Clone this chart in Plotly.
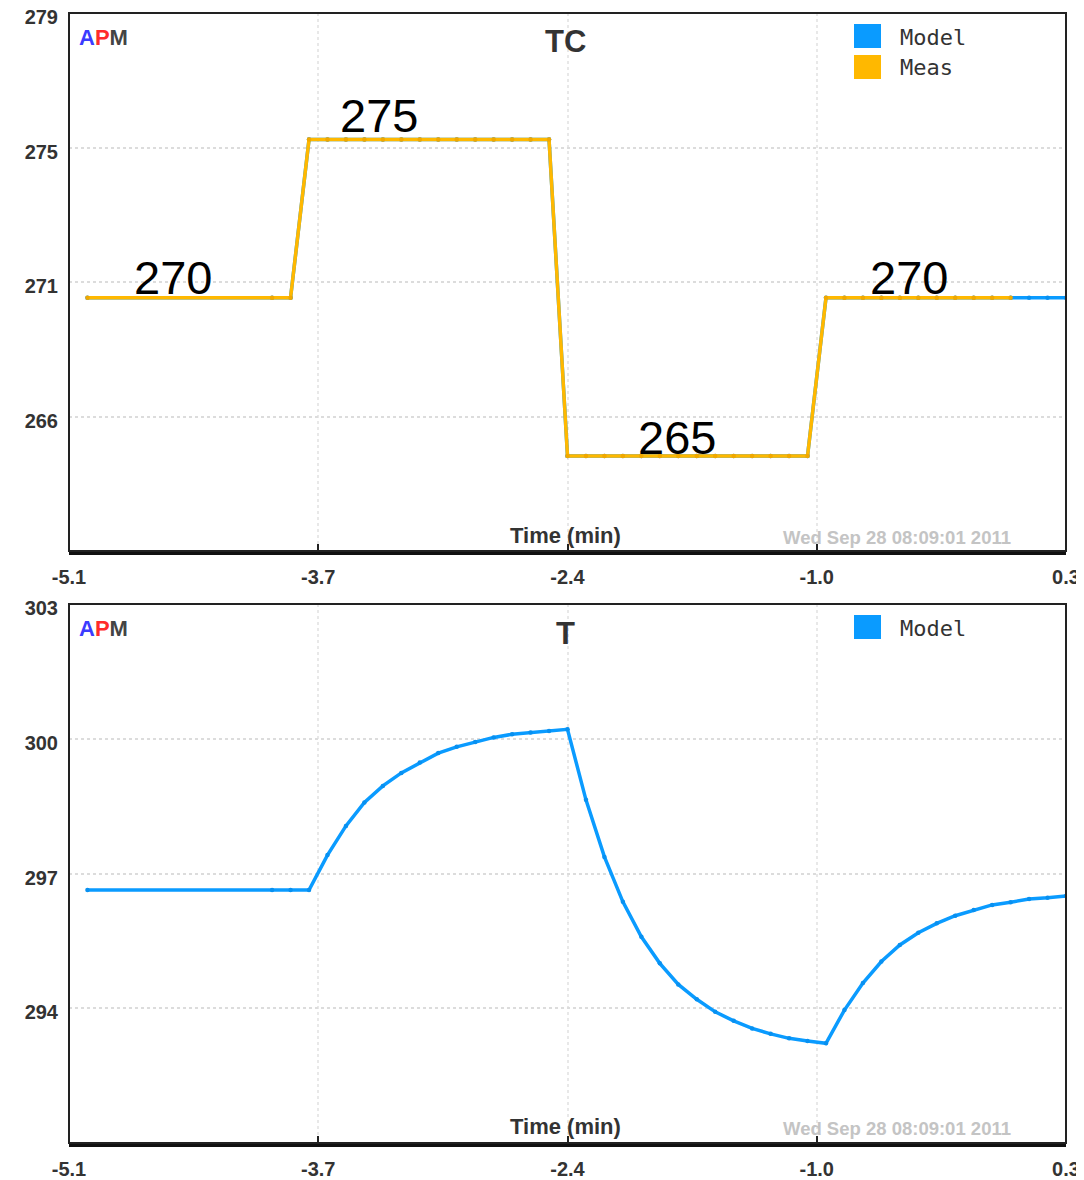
import plotly.graph_objects as go

# ---------------- data ----------------
time_min = [-5.0, -4.0, -3.9, -3.8, -3.7, -3.6, -3.5, -3.4, -3.3, -3.2, -3.1, -3.0,
            -2.9, -2.8, -2.7, -2.6, -2.5, -2.4, -2.3, -2.2, -2.1, -2.0, -1.9, -1.8,
            -1.7, -1.6, -1.5, -1.4, -1.3, -1.2, -1.1, -1.0, -0.9, -0.8, -0.7, -0.6,
            -0.5, -0.4, -0.3, -0.2, -0.1, 0.0, 0.1, 0.2, 0.3]

tc_model = [270, 270, 270,
            275, 275, 275, 275, 275, 275, 275, 275, 275, 275, 275, 275, 275, 275,
            265, 265, 265, 265, 265, 265, 265, 265, 265, 265, 265, 265, 265, 265,
            270, 270, 270, 270, 270, 270, 270, 270, 270, 270, 270, 270, 270, 270]

tc_meas_time = time_min[:42]
tc_meas = tc_model[:42]

t_model = [296.63, 296.63, 296.63, 296.63, 297.41, 298.06, 298.58, 298.95, 299.24,
           299.47, 299.68, 299.82, 299.93, 300.03, 300.10, 300.14, 300.17, 300.21,
           298.64, 297.37, 296.37, 295.59, 295.00, 294.53, 294.20, 293.92, 293.72,
           293.55, 293.43, 293.33, 293.27, 293.22, 293.96, 294.56, 295.04, 295.41,
           295.68, 295.89, 296.06, 296.19, 296.30, 296.36, 296.43, 296.46, 296.50]

x_tickvals = [-5.1, -3.75, -2.4, -1.05, 0.3]
x_ticktext = ["-5.1", "-3.7", "-2.4", "-1.0", "0.3"]
tc_tickvals = [266.25, 270.5, 274.75, 279]
tc_ticktext = ["266", "271", "275", "279"]
t_tickvals = [294, 297, 300, 303]
t_ticktext = ["294", "297", "300", "303"]

step_labels = ["270", "275", "265", "270"]
step_label_x = [-4.537, -3.421, -1.807, -0.55]
step_label_y = [269.75, 274.85, 264.69, 269.75]

BLUE = "#0a9bff"
ORANGE = "#ffb800"
FONT = "Liberation Sans, Arial, sans-serif"

# ---------------- layout helpers ----------------
# the page body has an 8px margin, so the figure is drawn 8px in from the corner
OFF = 8
W, H = 1084 - OFF, 1180 - OFF
ML, MR, MT, MB = 69 - OFF, 18, 13 - OFF, 37
PW, PH = W - ML - MR, H - MT - MB


def px(xp):
    return (xp - OFF - ML) / PW


def py(yp):
    return (H - MB - (yp - OFF)) / PH


fig = go.Figure()

# top subplot traces
fig.add_trace(go.Scatter(x=time_min, y=tc_model, mode="lines+markers",
                         line=dict(color=BLUE, width=3.5),
                         marker=dict(color="#0890f0", size=4.5),
                         xaxis="x", yaxis="y", showlegend=False, name="Model"))
fig.add_trace(go.Scatter(x=tc_meas_time, y=tc_meas, mode="lines+markers",
                         line=dict(color=ORANGE, width=3.5),
                         marker=dict(color="#f0a800", size=4.5),
                         xaxis="x", yaxis="y", showlegend=False, name="Meas"))
# bottom subplot trace
fig.add_trace(go.Scatter(x=time_min, y=t_model, mode="lines+markers",
                         line=dict(color=BLUE, width=3.5),
                         marker=dict(color="#0890f0", size=4.5),
                         xaxis="x2", yaxis="y2", showlegend=False, name="Model"))

tickfont = dict(family=FONT, size=20, color="#333333", weight=700)

common_x = dict(range=[-5.1, 0.3], tickvals=x_tickvals, ticktext=x_ticktext,
                showgrid=True, gridcolor="#e8e8e8", gridwidth=2, griddash="dot",
                showline=True, linewidth=4, linecolor="#111111", mirror=False,
                ticks="inside", ticklen=7, tickwidth=2, tickcolor="#222222",
                tickfont=tickfont, ticklabelstandoff=5, zeroline=False,
                automargin=False, fixedrange=True, ticklabeloverflow="allow")
common_y = dict(showgrid=True, gridcolor="#dcdcdc", gridwidth=2, griddash="dot",
                showline=False, ticks="", tickfont=tickfont, zeroline=False,
                ticklabelstandoff=10, ticklabelshift=4, automargin=False,
                fixedrange=True, ticklabeloverflow="allow")

top_dom = [py(551), 1.0]
bot_dom = [0.0, py(604)]

fig.update_layout(
    width=W, height=H,
    margin=dict(l=ML, r=MR, t=MT, b=MB, autoexpand=False),
    paper_bgcolor="white", plot_bgcolor="white",
    xaxis=dict(domain=[0, 1], anchor="y", **common_x),
    yaxis=dict(domain=top_dom, anchor="x", range=[262, 279],
               tickvals=tc_tickvals, ticktext=tc_ticktext, **common_y),
    xaxis2=dict(domain=[0, 1], anchor="y2", **common_x),
    yaxis2=dict(domain=bot_dom, anchor="x2", range=[291, 303],
                tickvals=t_tickvals, ticktext=t_ticktext, **common_y),
    showlegend=False,
)

shapes = []
annotations = []
for xr, yr in (("x", "y"), ("x2", "y2")):
    shapes.append(dict(type="rect", xref=f"{xr} domain", yref=f"{yr} domain",
                       x0=0, x1=1, y0=0, y1=1,
                       line=dict(color="#222222", width=2), layer="above"))

apm = ("<span style='color:#3b3bff'>A</span><span style='color:#ff2b2b'>P</span>"
       "<span style='color:#444444'>M</span>")

for off, title, legend_items in ((0, "TC", [("Model", BLUE), ("Meas", ORANGE)]),
                                 (591, "T", [("Model", BLUE)])):
    # APM logo
    annotations.append(dict(xref="paper", yref="paper", x=px(77), y=py(37 + off),
                            xanchor="left", yanchor="middle", text=apm, showarrow=False,
                            font=dict(family=FONT, size=22, weight=700)))
    # title
    annotations.append(dict(xref="paper", yref="paper", x=px(565), y=py(42 + off),
                            xanchor="center", yanchor="middle", text=title,
                            showarrow=False,
                            font=dict(family=FONT, size=31, color="#333333", weight=700)))
    # axis title
    annotations.append(dict(xref="paper", yref="paper", x=px(565), y=py(535 + off),
                            xanchor="center", yanchor="middle", text="Time (min)",
                            showarrow=False,
                            font=dict(family=FONT, size=22, color="#333333", weight=700)))
    # timestamp
    annotations.append(dict(xref="paper", yref="paper", x=px(897), y=py(537 + off),
                            xanchor="center", yanchor="middle",
                            text="Wed Sep 28 08:09:01 2011", showarrow=False,
                            font=dict(family=FONT, size=18.5, color="#c4c4c4", weight=700)))
    # legend
    for i, (name, col) in enumerate(legend_items):
        yc = 36 + off + i * 31
        shapes.append(dict(type="rect", xref="paper", yref="paper",
                           x0=px(854), x1=px(881), y0=py(yc + 12), y1=py(yc - 12),
                           fillcolor=col, line=dict(width=0), layer="above"))
        annotations.append(dict(xref="paper", yref="paper", x=px(898), y=py(yc + 1),
                                xanchor="left", yanchor="middle", text=name,
                                showarrow=False,
                                font=dict(family="DejaVu Sans Mono", size=22,
                                          color="#333333")))

for lab, lx, ly in zip(step_labels, step_label_x, step_label_y):
    annotations.append(dict(xref="x", yref="y", x=lx, y=ly, text=lab,
                            xanchor="center", yanchor="bottom", showarrow=False,
                            font=dict(family=FONT, size=47, color="black")))

fig.update_layout(shapes=shapes, annotations=annotations)

fig.write_html("out.html")
